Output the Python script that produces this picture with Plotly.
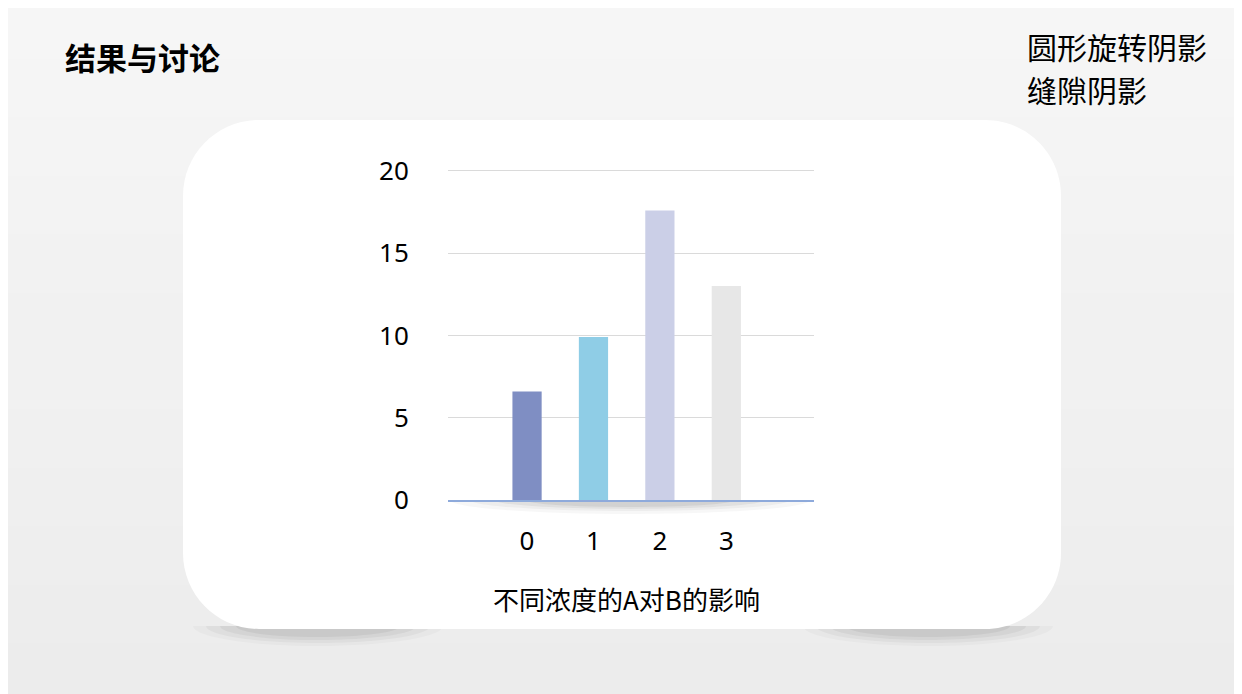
"""Bar chart slide: 不同浓度的A对B的影响 (Plotly)."""

import plotly.graph_objects as go

categories = [0, 1, 2, 3]
tick_text = ["0", "1", "2", "3"]
values = [6.6, 9.9, 17.6, 13.0]
bar_colors = ["#7f8ec3", "#8fcde6", "#cbcfe7", "#e7e7e7"]
y_ticks = [0, 5, 10, 15, 20]
y_max = 20.3  # a little headroom so the gridline at 20 is drawn

W, H = 1242, 694
OFF = 8  # the page puts the figure 8px in from the top-left corner
# plot area, in page pixels (where y = 0 and y = 20 fall)
X_LEFT, X_RIGHT, Y_ZERO, Y_TWENTY = 448, 814, 500, 171
unit = (Y_ZERO - Y_TWENTY) / 20
PL = X_LEFT - OFF
PR = X_RIGHT - OFF
PB = Y_ZERO - OFF
PT = Y_ZERO - OFF - unit * y_max


def px(x):
    return (x - OFF - PL) / (PR - PL)


def py(y):
    return (PB - (y - OFF)) / (PB - PT)


def rounded_rect(x0, y0, x1, y1, r):
    k = 0.5523 * r
    pts = [
        f"M{px(x0 + r)},{py(y0)}",
        f"L{px(x1 - r)},{py(y0)}",
        f"C{px(x1 - r + k)},{py(y0)} {px(x1)},{py(y0 + r - k)} {px(x1)},{py(y0 + r)}",
        f"L{px(x1)},{py(y1 - r)}",
        f"C{px(x1)},{py(y1 - r + k)} {px(x1 - r + k)},{py(y1)} {px(x1 - r)},{py(y1)}",
        f"L{px(x0 + r)},{py(y1)}",
        f"C{px(x0 + r - k)},{py(y1)} {px(x0)},{py(y1 - r + k)} {px(x0)},{py(y1 - r)}",
        f"L{px(x0)},{py(y0 + r)}",
        f"C{px(x0)},{py(y0 + r - k)} {px(x0 + r - k)},{py(y0)} {px(x0 + r)},{py(y0)}",
        "Z",
    ]
    return " ".join(pts)


def half_ellipse(cx, cy, rx, ry):
    # lower half of an ellipse (shadow hanging below a line)
    k = 0.5523
    return (f"M{px(cx - rx)},{py(cy)} "
            f"C{px(cx - rx)},{py(cy + ry * k)} {px(cx - rx * k)},{py(cy + ry)} {px(cx)},{py(cy + ry)} "
            f"C{px(cx + rx * k)},{py(cy + ry)} {px(cx + rx)},{py(cy + ry * k)} {px(cx + rx)},{py(cy)} Z")


shapes = []
# soft vertical background gradient
n_bands = 12
for i in range(n_bands):
    g = int(246 - i * 10 / n_bands)
    shapes.append(dict(type="rect", xref="paper", yref="paper", layer="below",
                       x0=px(0), x1=px(W + OFF), y0=py(i * (H + OFF) / n_bands),
                       y1=py((i + 1) * (H + OFF) / n_bands + 1),
                       fillcolor=f"rgb({g},{g},{g})", line=dict(width=0)))
# gap shadows under the card
for cx in (318, 928):
    for rx, ry, a in [(125, 20, 0.025), (112, 17, 0.035), (98, 14, 0.045), (82, 11, 0.05)]:
        shapes.append(dict(type="path", xref="paper", yref="paper", layer="below",
                           path=half_ellipse(cx, 626, rx, ry),
                           fillcolor=f"rgba(0,0,0,{a})", line=dict(width=0)))
# white card
shapes.append(dict(type="path", xref="paper", yref="paper", layer="below",
                   path=rounded_rect(183, 120, 1061, 629, 76),
                   fillcolor="white", line=dict(width=0)))
# shadow under the axis line
for rx, ry, a in [(180, 14, 0.03), (160, 11, 0.04), (135, 9, 0.05), (105, 7, 0.06)]:
    shapes.append(dict(type="path", xref="paper", yref="paper", layer="below",
                       path=half_ellipse(630, 500, rx, ry),
                       fillcolor=f"rgba(0,0,0,{a})", line=dict(width=0)))

fig = go.Figure()
fig.add_trace(go.Bar(
    x=categories, y=values, width=0.44,
    marker=dict(color=bar_colors, line=dict(width=0)),
    hoverinfo="x+y", showlegend=False))

font_cjk = "Noto Sans CJK SC, Noto Sans, sans-serif"
annotations = [
    dict(text="<b>结果与讨论</b>", x=px(63), y=py(57), xanchor="left", yanchor="middle",
         font=dict(size=31, color="#000000")),
    dict(text="圆形旋转阴影", x=px(1025), y=py(46), xanchor="left",
         yanchor="middle", font=dict(size=30, color="#000000")),
    dict(text="缝隙阴影", x=px(1025), y=py(89), xanchor="left",
         yanchor="middle", font=dict(size=30, color="#000000")),
    dict(text="不同浓度的A对B的影响", x=px(626), y=py(598), xanchor="center", yanchor="middle",
         font=dict(size=26, color="#000000")),
]
for a in annotations:
    a.update(xref="paper", yref="paper", showarrow=False)

fig.update_layout(
    width=W, height=H,
    margin=dict(l=PL, r=W - PR, t=PT, b=H - PB, pad=0),
    paper_bgcolor="#f0f0f0", plot_bgcolor="rgba(0,0,0,0)",
    font=dict(family=font_cjk, color="#000000"),
    shapes=shapes, annotations=annotations,
    xaxis=dict(range=[-1.19, 4.32], tickmode="array", tickvals=categories,
               ticktext=tick_text, showgrid=False, zeroline=False,
               showline=True, linecolor="#8eaadb", linewidth=1.5,
               ticks="outside", ticklen=17, tickcolor="rgba(0,0,0,0)",
               tickfont=dict(size=26, family="Noto Sans, sans-serif")),
    yaxis=dict(range=[0, y_max], tickmode="array", tickvals=y_ticks,
               showgrid=True, gridcolor="#dadada", gridwidth=1, zeroline=False,
               showline=False, ticks="outside", ticklen=33,
               tickcolor="rgba(0,0,0,0)",
               tickfont=dict(size=26, family="Noto Sans, sans-serif")),
)

fig.write_html("out.html")
